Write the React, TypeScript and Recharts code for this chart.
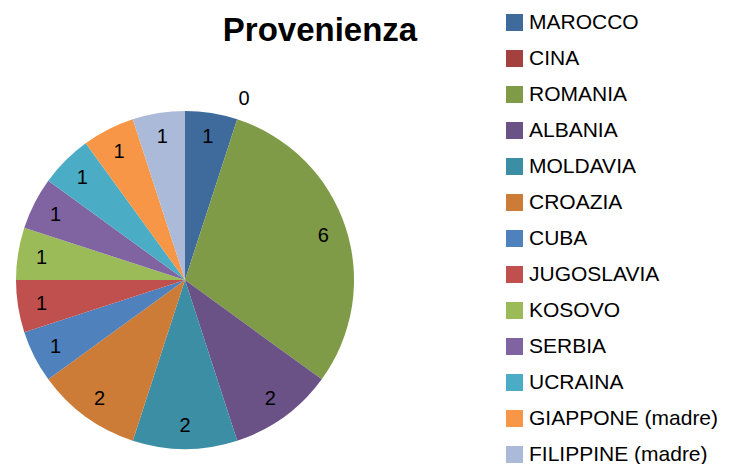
import { PieChart, Pie, Cell } from 'recharts';

const countries = [
  'MAROCCO',
  'CINA',
  'ROMANIA',
  'ALBANIA',
  'MOLDAVIA',
  'CROAZIA',
  'CUBA',
  'JUGOSLAVIA',
  'KOSOVO',
  'SERBIA',
  'UCRAINA',
  'GIAPPONE (madre)',
  'FILIPPINE (madre)',
];

const counts = [1, 0, 6, 2, 2, 2, 1, 1, 1, 1, 1, 1, 1];

const sliceColors = [
  '#3E6A9C',
  '#A2413E',
  '#7F9B48',
  '#6A5186',
  '#3C8EA5',
  '#CD7C38',
  '#4F81BD',
  '#C0504D',
  '#9BBB59',
  '#8064A2',
  '#4BACC6',
  '#F79646',
  '#AABAD8',
];

const data = countries.map((name, i) => ({ name, value: counts[i] }));

const FONT = '"Liberation Sans", Arial, sans-serif';

interface LabelProps {
  cx: number;
  cy: number;
  midAngle: number;
  outerRadius: number;
  value: number;
}

function renderLabel({ cx, cy, midAngle, outerRadius, value }: LabelProps) {
  const RADIAN = Math.PI / 180;
  const radius = value === 0 ? outerRadius + 22 : outerRadius * 0.86;
  const x = cx + radius * Math.cos(-midAngle * RADIAN);
  const y = cy + radius * Math.sin(-midAngle * RADIAN);
  return (
    <text x={x} y={y} fill="#000" textAnchor="middle" dominantBaseline="central" fontSize={20} fontFamily={FONT}>
      {value}
    </text>
  );
}

export default function App() {
  return (
    <div style={{ position: 'absolute', left: 0, top: 0, width: 736, height: 464, background: '#fff' }}>
      <div
        style={{
          position: 'absolute',
          left: 200,
          width: 240,
          top: 11,
          textAlign: 'center',
          fontFamily: FONT,
          fontWeight: 'bold',
          fontSize: 33,
        }}
      >
        Provenienza
      </div>
      <PieChart width={736} height={464} margin={{ top: 0, right: 0, bottom: 0, left: 0 }} style={{ position: 'absolute', left: 0, top: 0 }}>
        <Pie
          data={data}
          dataKey="value"
          nameKey="name"
          cx={185}
          cy={280}
          outerRadius={169}
          startAngle={90}
          endAngle={-270}
          labelLine={false}
          label={renderLabel}
          stroke="none"
          isAnimationActive={false}
        >
          {data.map((entry, i) => (
            <Cell key={entry.name} fill={sliceColors[i]} />
          ))}
        </Pie>
      </PieChart>
      <div style={{ position: 'absolute', left: 506, top: 4, fontFamily: FONT, fontSize: 21 }}>
        {countries.map((name, i) => (
          <div key={name} style={{ display: 'flex', alignItems: 'center', height: 36 }}>
            <span style={{ display: 'inline-block', width: 17, height: 17, background: sliceColors[i], marginRight: 6 }} />
            <span>{name}</span>
          </div>
        ))}
      </div>
    </div>
  );
}
